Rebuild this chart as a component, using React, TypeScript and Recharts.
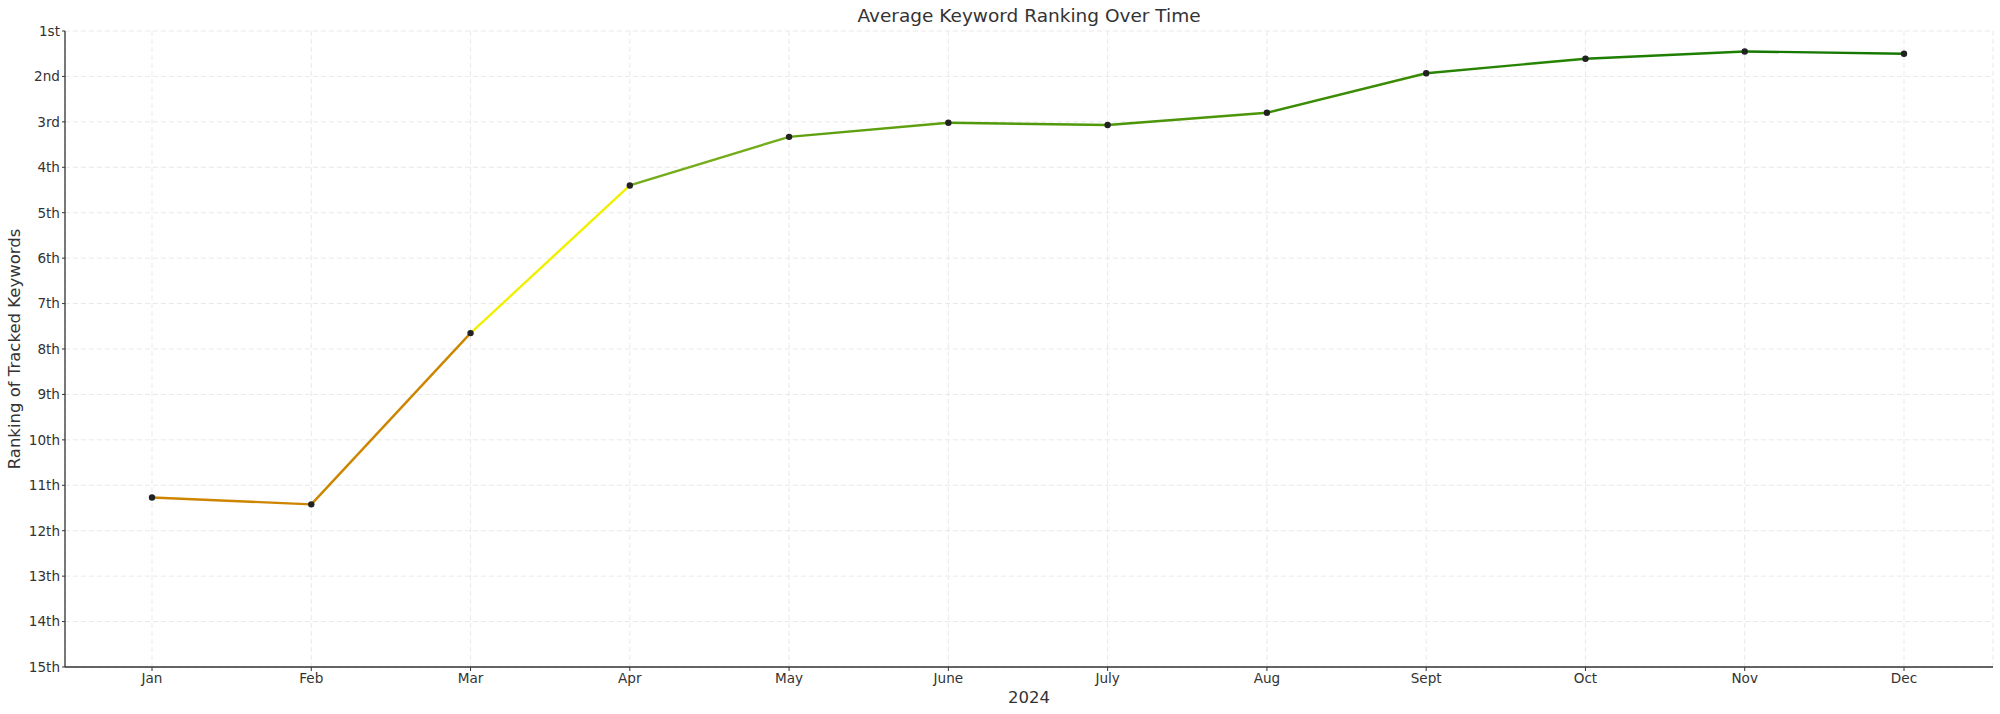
import { LineChart, Line, XAxis, YAxis, CartesianGrid } from "recharts";

const months = ["Jan", "Feb", "Mar", "Apr", "May", "June", "July", "Aug", "Sept", "Oct", "Nov", "Dec"];
const ranks = [11.27, 11.42, 7.65, 4.4, 3.33, 3.02, 3.07, 2.8, 1.93, 1.61, 1.45, 1.5];
// colour of the segment from month i to month i + 1
const segmentColors = [
  "#cd8500",
  "#cd8500",
  "#f0f000",
  "#74ac1a",
  "#5fa010",
  "#4f990a",
  "#4a9508",
  "#3a8c04",
  "#278402",
  "#1d7e00",
  "#167800",
];
const rankTicks = [1, 2, 3, 4, 5, 6, 7, 8, 9, 10, 11, 12, 13, 14, 15];

const ordinal = (n: number) => {
  const mod100 = n % 100;
  if (mod100 >= 11 && mod100 <= 13) return `${n}th`;
  if (n % 10 === 1) return `${n}st`;
  if (n % 10 === 2) return `${n}nd`;
  if (n % 10 === 3) return `${n}rd`;
  return `${n}th`;
};

// one row per month; each segment key only holds its two end points
const rows = months.map((month, i) => {
  const row: Record<string, string | number | null> = { month, rank: ranks[i] };
  segmentColors.forEach((_, s) => {
    row[`s${s}`] = i === s || i === s + 1 ? ranks[i] : null;
  });
  return row;
});

const font = "'DejaVu Sans', sans-serif";
const textColor = "#333333";
const tick = { fontSize: 13.6, fill: textColor, fontFamily: font };

export default function App() {
  return (
    <div style={{ position: "relative", width: 2000, height: 714, background: "#fff" }}>
      <style>{`body { margin: 0; }`}</style>
      <div
        style={{
          position: "absolute",
          left: 65,
          width: 1928,
          top: 6.6,
          textAlign: "center",
          fontFamily: font,
          fontSize: 18.5,
          lineHeight: 1,
          color: textColor,
        }}
      >
        Average Keyword Ranking Over Time
      </div>
      <LineChart width={2000} height={714} data={rows} margin={{ top: 31, right: 7, bottom: 0, left: 0 }}>
        <CartesianGrid stroke="#e9e9e9" strokeDasharray="5 3" />
        <XAxis
          dataKey="month"
          interval={0}
          height={47}
          padding={{ left: 87, right: 89 }}
          tick={tick}
          tickSize={4}
          tickMargin={2}
          axisLine={{ stroke: textColor, strokeWidth: 1.3 }}
          tickLine={{ stroke: textColor }}
          label={{
            value: "2024",
            position: "insideBottom",
            offset: 11,
            fontSize: 16.5,
            fill: textColor,
            fontFamily: font,
          }}
        />
        <YAxis
          type="number"
          domain={[1, 15]}
          reversed
          ticks={rankTicks}
          interval={0}
          width={65}
          tickFormatter={ordinal}
          tick={tick}
          tickSize={3}
          tickMargin={2}
          axisLine={{ stroke: textColor, strokeWidth: 1.3 }}
          tickLine={{ stroke: textColor }}
          label={{
            value: "Ranking of Tracked Keywords",
            angle: -90,
            position: "insideLeft",
            offset: 14,
            fontSize: 16.5,
            fill: textColor,
            fontFamily: font,
            style: { textAnchor: "middle" },
          }}
        />
        {segmentColors.map((color, s) => (
          <Line
            key={s}
            type="linear"
            dataKey={`s${s}`}
            stroke={color}
            strokeWidth={2.4}
            dot={false}
            activeDot={false}
            isAnimationActive={false}
          />
        ))}
        <Line
          type="linear"
          dataKey="rank"
          stroke="none"
          dot={{ r: 3.2, fill: "#222222", stroke: "none" }}
          activeDot={false}
          isAnimationActive={false}
        />
      </LineChart>
    </div>
  );
}
